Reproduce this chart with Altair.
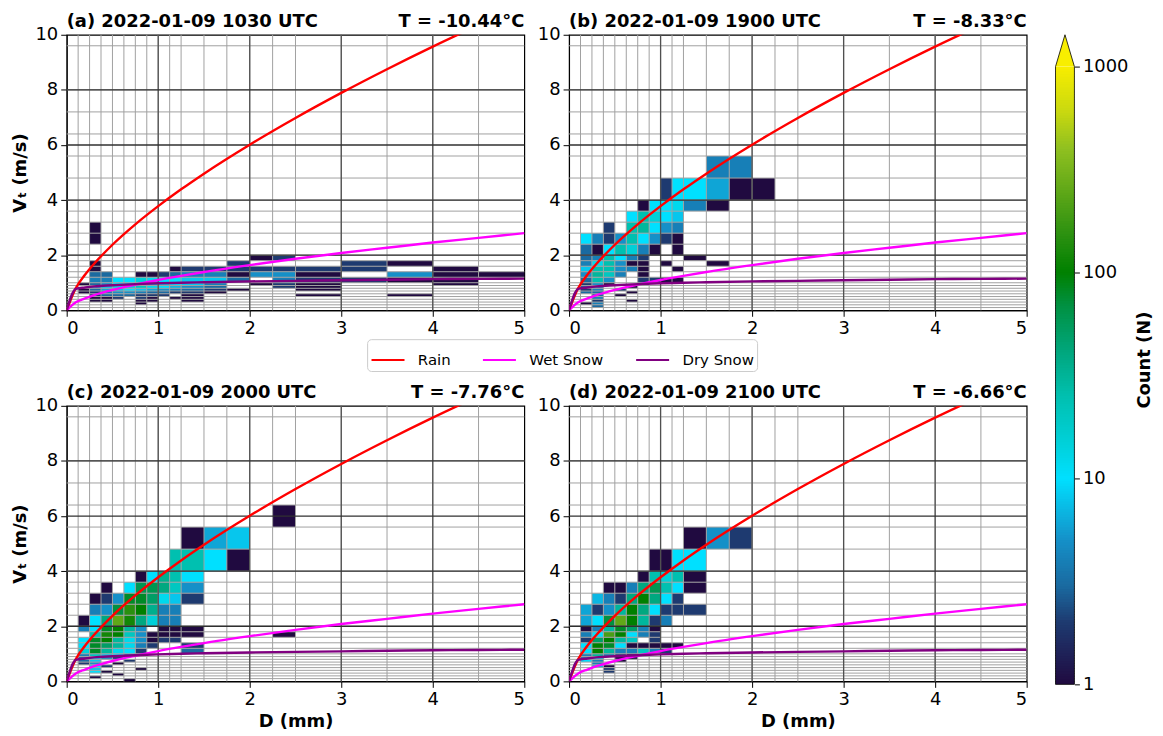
import altair as alt
import pandas as pd
import numpy as np

# ---------------- data ----------------
D_EDGES = [0, 0.125, 0.25, 0.375, 0.5, 0.625, 0.75, 0.875, 1.0, 1.125, 1.25,
           1.5, 1.75, 2.0, 2.25, 2.5, 3.0, 3.5, 4.0, 4.5, 5.0]
V_EDGES = [0, 0.1, 0.2, 0.3, 0.4, 0.5, 0.6, 0.7, 0.8, 0.9, 1.0, 1.2, 1.4, 1.6,
           1.8, 2.0, 2.4, 2.8, 3.2, 3.6, 4.0, 4.8, 5.6, 6.4, 7.2, 8.0, 9.6, 11.2]
X_TICKS = [0, 1, 2, 3, 4, 5]
Y_TICKS = [0, 2, 4, 6, 8, 10]
X_MAJOR = [1, 2, 3, 4]
Y_MAJOR = [2, 4, 6, 8]

TITLES = ["(a) 2022-01-09 1030 UTC", "(b) 2022-01-09 1900 UTC",
          "(c) 2022-01-09 2000 UTC", "(d) 2022-01-09 2100 UTC"]
TEMPS = ["T = -10.44°C", "T = -8.33°C", "T = -7.76°C", "T = -6.66°C"]

# counts per cell: {velocity bin index: {diameter bin index: count}}
# velocity bin i spans V_EDGES[i]..V_EDGES[i+1]; diameter bin j spans D_EDGES[j]..D_EDGES[j+1]
PANEL_A = {
    17: {2: 1}, 16: {2: 1},
    14: {13: 1, 14: 2},
    13: {2: 1, 12: 2, 16: 2, 17: 1},
    12: {2: 1, 9: 1, 10: 2, 11: 2, 12: 2, 13: 2, 14: 2, 15: 2, 16: 2, 18: 1},
    11: {2: 3, 3: 3, 6: 1, 7: 1, 8: 2, 9: 3, 10: 4, 11: 4, 12: 1, 13: 5, 14: 5, 15: 1, 17: 5, 18: 1, 19: 1},
    10: {2: 4, 3: 4, 4: 10, 5: 10, 6: 15, 7: 12, 8: 10, 9: 10, 10: 8, 11: 8, 12: 3, 14: 4, 15: 2, 16: 2, 17: 1, 18: 1},
    9: {1: 1, 2: 3, 3: 5, 4: 10, 5: 12, 6: 20, 7: 15, 8: 12, 9: 10, 10: 8, 11: 4, 13: 1, 14: 2, 15: 1, 18: 1},
    8: {2: 5, 3: 8, 4: 12, 5: 15, 6: 20, 7: 12, 8: 10, 9: 7, 10: 5, 11: 3, 14: 2, 15: 1},
    7: {1: 1, 2: 3, 3: 6, 4: 8, 5: 10, 6: 8, 7: 6, 8: 5, 9: 4, 10: 3, 11: 2, 12: 1, 15: 1},
    6: {1: 1, 2: 2, 3: 4, 4: 5, 5: 5, 6: 4, 7: 3, 8: 3, 9: 2, 10: 2, 11: 1},
    5: {2: 2, 3: 3, 4: 3, 5: 3, 6: 2, 7: 2, 8: 2, 10: 1, 15: 1, 17: 1},
    4: {2: 1, 3: 1, 4: 2, 6: 2, 7: 1, 9: 1, 10: 1},
    3: {2: 1, 3: 1, 6: 1, 7: 1, 10: 1},
    2: {6: 1},
}
PANEL_B = {
    21: {11: 4, 12: 4},
    20: {8: 2, 9: 10, 10: 10, 11: 6, 12: 1, 13: 1},
    19: {6: 1, 7: 10, 8: 10, 9: 12, 10: 4, 11: 1},
    18: {5: 10, 6: 25, 7: 15, 8: 10, 9: 8},
    17: {3: 2, 5: 25, 6: 30, 7: 10, 8: 5, 9: 4},
    16: {1: 10, 2: 4, 3: 2, 4: 5, 5: 25, 6: 10, 7: 5, 8: 2, 9: 1},
    15: {1: 3, 2: 1, 3: 10, 4: 25, 5: 15, 6: 4, 7: 1, 9: 1},
    14: {1: 3, 2: 4, 3: 25, 4: 10, 5: 4, 6: 2, 10: 1},
    13: {1: 4, 2: 12, 3: 25, 4: 5, 5: 1, 6: 1, 8: 1, 11: 1},
    12: {1: 8, 2: 25, 3: 25, 4: 5, 5: 4, 6: 1, 9: 1},
    11: {1: 5, 2: 30, 3: 20, 4: 4, 6: 1},
    10: {1: 3, 2: 25, 3: 5, 6: 2, 7: 2, 8: 1, 9: 1},
    9: {1: 2, 2: 5, 3: 1, 6: 1},
    8: {1: 3, 2: 4, 5: 1},
    7: {1: 2, 2: 4, 4: 2},
    6: {1: 3, 2: 3, 5: 1},
    5: {2: 3, 4: 1},
    4: {2: 4},
    3: {2: 2, 5: 1},
    2: {1: 1, 2: 4},
    1: {2: 3},
}
PANEL_C = {
    22: {14: 1},
    21: {10: 1, 11: 6, 12: 8},
    20: {9: 25, 10: 25, 11: 10, 12: 1},
    19: {6: 1, 7: 10, 8: 35, 9: 25, 10: 10},
    18: {3: 1, 5: 10, 6: 60, 7: 60, 8: 40, 9: 20, 10: 5},
    17: {2: 1, 3: 2, 4: 5, 5: 80, 6: 80, 7: 50, 8: 12, 9: 8, 10: 2},
    16: {2: 4, 3: 5, 4: 70, 5: 150, 6: 100, 7: 35, 8: 4, 9: 4},
    15: {1: 1, 2: 10, 3: 40, 4: 250, 5: 120, 6: 40, 7: 15, 8: 4, 9: 4},
    14: {1: 4, 2: 10, 3: 80, 4: 100, 5: 30, 6: 5, 8: 1, 9: 1, 10: 1},
    13: {2: 25, 3: 120, 4: 100, 5: 20, 6: 5, 7: 1, 8: 1, 9: 1, 10: 1, 14: 1},
    12: {1: 10, 2: 80, 3: 100, 4: 30, 5: 12, 6: 5, 7: 1, 8: 2, 9: 2},
    11: {1: 10, 2: 80, 3: 50, 4: 30, 5: 12, 6: 4, 7: 2, 10: 2},
    10: {1: 15, 2: 80, 3: 30, 4: 12, 5: 10, 6: 2, 10: 3},
    9: {1: 4, 2: 20, 3: 8, 4: 10, 5: 4},
    8: {1: 3, 2: 10, 3: 5, 4: 2},
    7: {1: 3, 2: 8, 5: 2},
    6: {1: 2, 2: 5, 4: 1},
    5: {2: 10, 3: 2},
    4: {2: 8, 6: 1},
    3: {2: 10, 3: 1},
    2: {4: 1},
    1: {2: 1},
    0: {5: 1},
}
PANEL_D = {
    21: {10: 1, 11: 5, 12: 2},
    20: {7: 1, 8: 1, 9: 10, 10: 10},
    19: {6: 1, 7: 25, 8: 15, 9: 25, 10: 1},
    18: {3: 1, 4: 1, 5: 4, 6: 40, 7: 60, 8: 25, 9: 10, 10: 1},
    17: {2: 7, 3: 4, 4: 2, 5: 40, 6: 100, 7: 40, 8: 10, 9: 2},
    16: {1: 6, 2: 2, 3: 5, 4: 30, 5: 100, 6: 40, 7: 10, 8: 2, 9: 2, 10: 2},
    15: {1: 6, 2: 10, 3: 70, 4: 250, 5: 100, 6: 30, 7: 2, 8: 4},
    14: {1: 1, 2: 4, 3: 30, 4: 80, 5: 50, 6: 4, 7: 1},
    13: {1: 4, 2: 10, 3: 200, 4: 100, 5: 10, 6: 4, 7: 2},
    12: {1: 2, 2: 50, 3: 100, 4: 30, 5: 20, 7: 2},
    11: {1: 10, 2: 100, 3: 80, 4: 10, 5: 1, 6: 1, 7: 1, 8: 1, 9: 1},
    10: {1: 10, 2: 100, 3: 30, 4: 4, 5: 4, 6: 20, 7: 4, 8: 2},
    9: {1: 4, 2: 30, 3: 4, 4: 2, 5: 1},
    8: {1: 4, 2: 10, 4: 1, 5: 1},
    7: {1: 10, 2: 4, 4: 1},
    6: {2: 4},
    5: {2: 7, 3: 1},
    4: {3: 2},
    3: {3: 2},
}

# fall-speed relations
CURVE_D = [0, 0.1, 0.2, 0.3, 0.5, 0.75, 1, 1.25, 1.5, 2, 2.5, 3, 3.5, 4, 4.5, 5]
RAIN_V = [0, 0.81, 1.29, 1.69, 2.38, 3.12, 3.78, 4.39, 4.96, 6.01, 6.98, 7.89, 8.75, 9.57, 10.35, 11.11]
WET_V = [0, 0.29, 0.43, 0.55, 0.74, 0.93, 1.10, 1.25, 1.39, 1.64, 1.87, 2.08, 2.27, 2.46, 2.63, 2.80]
DRY_V = [0, 0.78, 0.83, 0.87, 0.91, 0.95, 0.98, 1.00, 1.02, 1.05, 1.07, 1.09, 1.11, 1.13, 1.14, 1.15]
CURVE_NAMES = ["Rain", "Wet Snow", "Dry Snow"]
CURVE_COLORS = ["#ff0000", "#ff00ff", "#800080"]

# colour map (log count)
CB_STOPS = [1, 2, 3, 5, 10, 15, 25, 40, 70, 100, 150, 250, 400, 600, 1000]
CB_COLORS = ["#200a40", "#1e3a70", "#1a6aa0", "#1590c8", "#00e0ff", "#00d0d8",
             "#00c0b0", "#00a880", "#009040", "#008000", "#2a9010", "#60a818",
             "#90c020", "#c8d810", "#f8ee00"]
CB_TICKS = [1, 10, 100, 1000]

# ---------------- build ----------------
FONT = "DejaVu Sans"
PW, PH = 460, 277

cscale = alt.Scale(type="log", domain=CB_STOPS, range=CB_COLORS, interpolate="rgb")
xs = alt.Scale(domain=[0, 5], nice=False, zero=False)
ys = alt.Scale(domain=[0, 10], nice=False, zero=False)

curve_rows = []
for name, vals in zip(CURVE_NAMES, [RAIN_V, WET_V, DRY_V]):
    for d, v in zip(CURVE_D, vals):
        curve_rows.append({"D": d, "V": v, "type": name})
curves_df = pd.DataFrame(curve_rows)

minor_x = pd.DataFrame({"x": D_EDGES[1:-1]})
minor_y = pd.DataFrame({"y": [v for v in V_EDGES if 0 < v < 10]})
major_x = pd.DataFrame({"x": X_MAJOR})
major_y = pd.DataFrame({"y": Y_MAJOR})

legend = alt.Legend(orient="none", legendX=302, legendY=306, direction="horizontal",
                    columns=3, title=None, symbolType="stroke", symbolStrokeWidth=2,
                    symbolSize=1100, labelFont=FONT, labelFontSize=15, labelColor="black",
                    strokeColor="#cccccc", fillColor="white", cornerRadius=4, padding=3,
                    columnPadding=28, labelOffset=12)


def panel(idx, counts, show_xt, show_yt):
    rows = []
    for vb, dd in counts.items():
        for db, n in dd.items():
            rows.append({"d0": D_EDGES[db], "d1": D_EDGES[db + 1],
                         "v0": V_EDGES[vb], "v1": V_EDGES[vb + 1], "n": n})
    cells = pd.DataFrame(rows)
    xax = alt.Axis(values=X_TICKS, format="d", title="D (mm)" if show_xt else None,
                   titlePadding=4)
    yax = alt.Axis(values=Y_TICKS, format="d", title="Vₜ (m/s)" if show_yt else None,
                   titlePadding=6)

    rect = alt.Chart(cells).mark_rect().encode(
        x=alt.X("d0:Q", scale=xs, axis=xax), x2="d1:Q",
        y=alt.Y("v0:Q", scale=ys, axis=yax), y2="v1:Q",
        fill=alt.Fill("n:Q", scale=cscale, legend=None),
    )
    gx = alt.Chart(minor_x).mark_rule(color="#a0a0a0", strokeWidth=1).encode(
        x=alt.X("x:Q", scale=xs, axis=xax))
    gy = alt.Chart(minor_y).mark_rule(color="#a0a0a0", strokeWidth=1).encode(
        y=alt.Y("y:Q", scale=ys, axis=yax))
    mx = alt.Chart(major_x).mark_rule(color="#505050", strokeWidth=1.3).encode(
        x=alt.X("x:Q", scale=xs, axis=xax))
    my = alt.Chart(major_y).mark_rule(color="#303030", strokeWidth=1.3).encode(
        y=alt.Y("y:Q", scale=ys, axis=yax))
    lines = alt.Chart(curves_df).mark_line(strokeWidth=2.4, clip=True, interpolate="monotone").encode(
        x=alt.X("D:Q", scale=xs, axis=xax),
        y=alt.Y("V:Q", scale=ys, axis=yax),
        stroke=alt.Stroke("type:N", scale=alt.Scale(domain=CURVE_NAMES, range=CURVE_COLORS),
                          sort=CURVE_NAMES, legend=legend),
    )
    tdf = pd.DataFrame({"title": [TITLES[idx]], "temp": [TEMPS[idx]]})
    ttl = alt.Chart(tdf).mark_text(align="left", baseline="alphabetic", font=FONT,
                                   fontSize=18, fontWeight="bold", color="black").encode(
        x=alt.value(0), y=alt.value(-8), text="title:N")
    tmp = alt.Chart(tdf).mark_text(align="right", baseline="alphabetic", font=FONT,
                                   fontSize=18, fontWeight="bold", color="black").encode(
        x=alt.value(PW), y=alt.value(-8), text="temp:N")
    return alt.layer(rect, gx, gy, mx, my, lines, ttl, tmp)


# ---------------- colour bar (drawn beside panel b through its own scales) ----------------
CB_X0, CB_X1 = 489, 508     # pixel range of the bar relative to panel b
CB_H = 653
cb_top = 1428
steps = np.logspace(0, 3, 241)
cb_df = pd.DataFrame({"lo": steps[:-1], "hi": np.minimum(steps[1:] * 1.01, 1000),
                      "mid": np.sqrt(steps[:-1] * steps[1:]), "x0": 0, "x1": 1})
cby = alt.Scale(type="log", domain=[1, cb_top], range=[CB_H, 0], nice=False, zero=False)
cbx = alt.Scale(domain=[0, 1], range=[CB_X0, CB_X1], nice=False, zero=False)
cbax = alt.Axis(orient="right", values=CB_TICKS, format="d", title="Count (N)",
                titleAngle=270, titlePadding=26, tickSize=5, domain=False,
                offset=CB_X1 - PW, labelFontSize=18)
cb_rect = alt.Chart(cb_df).mark_rect().encode(
    x=alt.X("x0:Q", scale=cbx, axis=None), x2="x1:Q",
    y=alt.Y("lo:Q", scale=cby, axis=cbax), y2="hi:Q",
    fill=alt.Fill("mid:Q", scale=cscale, legend=None),
)
tri = pd.DataFrame({"x": [0, 0.5, 1], "y": [1000, cb_top, 1000], "b": [1000, 1000, 1000]})
cb_tri = alt.Chart(tri).mark_area(color="#f8ee00").encode(
    x=alt.X("x:Q", scale=cbx, axis=None),
    y=alt.Y("y:Q", scale=cby, axis=cbax), y2="b:Q",
)
outline = pd.DataFrame({"x": [0, 0, 0.5, 1, 1, 0], "y": [1, 1000, cb_top, 1000, 1, 1],
                        "o": [0, 1, 2, 3, 4, 5]})
cb_line = alt.Chart(outline).mark_line(color="black", strokeWidth=0.8).encode(
    x=alt.X("x:Q", scale=cbx, axis=None),
    y=alt.Y("y:Q", scale=cby, axis=cbax), order="o:Q",
)
cbar = alt.layer(cb_rect, cb_tri, cb_line)

pa = panel(0, PANEL_A, False, True).properties(width=PW, height=PH)
pb = alt.layer(panel(1, PANEL_B, False, False), cbar).resolve_scale(
    x="independent", y="independent").properties(width=PW, height=PH)
pc = panel(2, PANEL_C, True, True).properties(width=PW, height=PH)
pd_ = panel(3, PANEL_D, True, False).properties(width=PW, height=PH)

chart = alt.concat(pa, pb, pc, pd_, columns=2, bounds="flush",
                   spacing=alt.RowColnumber(row=96, column=45)).properties(
    padding={"left": 2, "top": 2, "right": 0, "bottom": 0}
).configure_view(stroke="black", strokeWidth=1.2).configure_axis(
    labelFont=FONT, labelFontSize=18, labelColor="black", titleFont=FONT,
    titleFontSize=18, titleFontWeight="bold", titleColor="black",
    domainColor="black", tickColor="black", tickSize=6, grid=False, labelPadding=3,
)

chart.save("out.html", embed_options={"renderer": "svg", "actions": False})
